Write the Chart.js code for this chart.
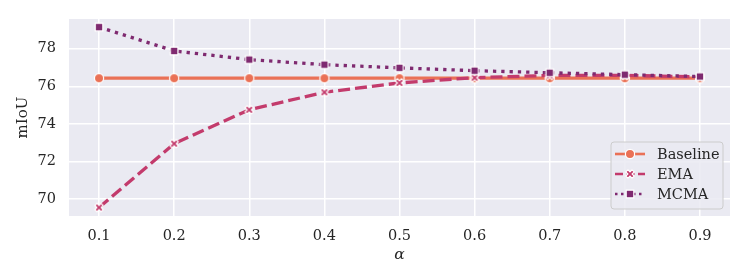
<!DOCTYPE html>
<html><head><meta charset="utf-8">
<script src="https://cdn.jsdelivr.net/npm/chart.js@4/dist/chart.umd.min.js"></script>
<style>html,body{margin:0;padding:0;background:#fff}#wrap{width:747px;height:280px}</style>
</head><body><div id="wrap"><canvas id="c" width="747" height="280"></canvas></div>
<script>
const alphas = [0.1,0.2,0.3,0.4,0.5,0.6,0.7,0.8,0.9];
const baseline = [76.43,76.43,76.43,76.43,76.43,76.43,76.43,76.43,76.43];
const ema = [69.55,72.95,74.75,75.68,76.18,76.46,76.58,76.58,76.5];
const mcma = [79.15,77.88,77.42,77.15,76.98,76.83,76.72,76.62,76.52];
const yTicks = [70,72,74,76,78];
const xTicks = [0.1,0.2,0.3,0.4,0.5,0.6,0.7,0.8,0.9];
const seriesNames = ['Baseline','EMA','MCMA'];
const colors = ['#ea7156','#c33b6c','#7f2a70'];
const dashes = [[],[12,5],[3.3,5]];
const FONT = "'DejaVu Serif', serif";

function marker(type,color){
  const s=14,c=document.createElement('canvas');c.width=s;c.height=s;
  const g=c.getContext('2d');g.translate(s/2,s/2);
  g.fillStyle=color;g.strokeStyle='#fff';g.lineWidth=1.2;g.beginPath();
  if(type==='circle'){g.arc(0,0,4.6,0,Math.PI*2);}
  else if(type==='rect'){g.rect(-3.8,-3.8,7.6,7.6);}
  else {const a=1.5,b=4.4;
    g.rotate(Math.PI/4);
    g.moveTo(-a,-b);g.lineTo(a,-b);g.lineTo(a,-a);g.lineTo(b,-a);g.lineTo(b,a);g.lineTo(a,a);g.lineTo(a,b);g.lineTo(-a,b);g.lineTo(-a,a);g.lineTo(-b,a);g.lineTo(-b,-a);g.lineTo(-a,-a);g.closePath();}
  g.fill();g.stroke();return c;
}
const mtypes=['circle','x','rect'];
const markers = mtypes.map((t,i)=>marker(t,colors[i]));
const vals=[baseline,ema,mcma];

const bgPlugin={id:'bg',beforeDraw(ch){const a=ch.chartArea,g=ch.ctx;g.save();g.fillStyle='#eaeaf2';g.fillRect(a.left,a.top,a.right-a.left,a.bottom-a.top);g.restore();}};
const legendPlugin={id:'lg',afterDraw(ch){
  const g=ch.ctx;g.save();
  const x0=611,y0=142,w=112,h=67,r=3;
  g.beginPath();g.moveTo(x0+r,y0);g.arcTo(x0+w,y0,x0+w,y0+h,r);g.arcTo(x0+w,y0+h,x0,y0+h,r);g.arcTo(x0,y0+h,x0,y0,r);g.arcTo(x0,y0,x0+w,y0,r);g.closePath();
  g.fillStyle='rgba(234,234,242,0.85)';g.fill();g.strokeStyle='#cccccc';g.lineWidth=1;g.stroke();
  seriesNames.forEach((n,i)=>{
    const y=154+i*20;
    g.strokeStyle=colors[i];g.lineWidth=2.6;g.setLineDash(i===0?[]:(i===1?[8,3.5]:[2.5,3.5]));
    g.beginPath();g.moveTo(615,y);g.lineTo(645,y);g.stroke();g.setLineDash([]);
    g.drawImage(markers[i],630-7,y-7);
    g.fillStyle='#262626';g.font='14.5px '+FONT;g.textBaseline='middle';g.textAlign='left';
    g.fillText(n,657,y+1);
  });
  g.restore();
}};

new Chart(document.getElementById('c'),{
  type:'line',
  data:{datasets:seriesNames.map((n,i)=>({
    label:n,data:alphas.map((a,j)=>({x:a,y:vals[i][j]})),
    borderColor:colors[i],backgroundColor:colors[i],borderWidth:3.3,borderDash:dashes[i],
    pointStyle:markers[i],pointRadius:5,tension:0,fill:false,order:3-i
  }))},
  options:{
    responsive:false,animation:false,
    layout:{padding:{top:19,right:17,left:14,bottom:12}},
    plugins:{legend:{display:false},tooltip:{enabled:false}},
    scales:{
      x:{type:'linear',min:0.06,max:0.94,
        afterBuildTicks:s=>{s.ticks=xTicks.map(v=>({value:v}));},
        afterFit:s=>{s.height=52;s.paddingLeft=0;s.paddingRight=0;},
        grid:{color:'#ffffff',lineWidth:1.5,drawTicks:false},border:{display:false},
        ticks:{padding:12,color:'#262626',font:{family:FONT,size:14.5},callback:v=>v.toFixed(1)},
        title:{display:true,text:'α',color:'#262626',font:{family:FONT,size:15.5,style:'italic'},padding:{top:0,bottom:4}}},
      y:{min:69.1,max:79.58,
        afterBuildTicks:s=>{s.ticks=yTicks.map(v=>({value:v}));},
        afterFit:s=>{s.width=55;s.paddingTop=0;s.paddingBottom=0;},
        grid:{color:'#ffffff',lineWidth:1.5,drawTicks:false},border:{display:false},
        ticks:{padding:13,color:'#262626',font:{family:FONT,size:14.5},callback:v=>String(v)},
        title:{display:true,text:'mIoU',color:'#262626',font:{family:FONT,size:15},padding:{top:0,bottom:4}}}
    }
  },
  plugins:[bgPlugin,legendPlugin]
});
</script></body></html>
